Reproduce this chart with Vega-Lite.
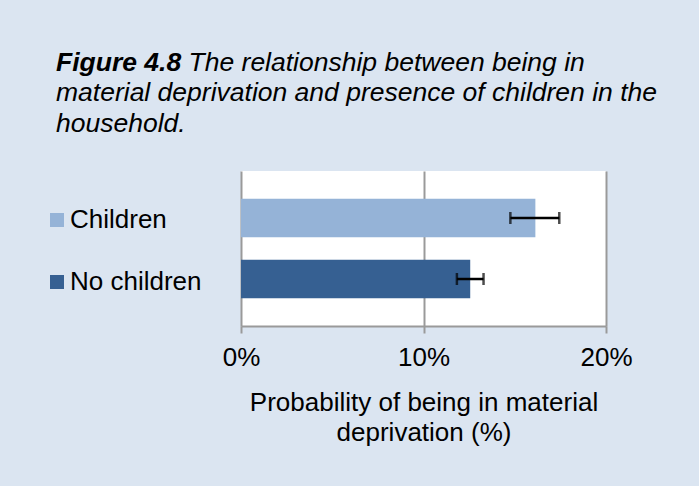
{
  "$schema": "https://vega.github.io/schema/vega-lite/v6.json",
  "autosize": {"type": "none"},
  "width": 365,
  "height": 155,
  "padding": {"left": 241, "top": 171, "right": 93, "bottom": 160},
  "background": "#dbe5f1",
  "title": {
    "text": "Figure 4.8",
    "subtitle": ["\u200b\u00a0\u00a0\u00a0\u00a0\u00a0\u00a0\u00a0\u00a0\u00a0\u00a0\u00a0\u00a0\u00a0\u00a0\u00a0\u00a0\u00a0\u00a0The relationship between being in", "material deprivation and presence of children in the", "household."],
    "anchor": "start",
    "frame": "group",
    "dx": -185,
    "offset": 34,
    "font": "Liberation Sans",
    "fontSize": 26.5,
    "fontStyle": "italic",
    "fontWeight": "bold",
    "color": "#000000",
    "subtitleFont": "Liberation Sans",
    "subtitleFontSize": 26.5,
    "subtitleFontStyle": "italic",
    "subtitleFontWeight": "normal",
    "subtitleColor": "#000000",
    "subtitleLineHeight": 30.5,
    "subtitlePadding": -26.5
  },
  "data": {
    "values": [
      {"group": "Children", "value": 0.1613, "lo": 0.1476, "hi": 0.1744},
      {"group": "No children", "value": 0.1256, "lo": 0.1183, "hi": 0.1329}
    ]
  },
  "encoding": {
    "y": {
      "field": "group",
      "type": "nominal",
      "sort": ["Children", "No children"],
      "scale": {"paddingInner": 0.366, "paddingOuter": 0.453},
      "axis": null
    }
  },
  "layer": [
    {
      "mark": {"type": "bar"},
      "encoding": {
        "x": {
          "field": "value",
          "type": "quantitative",
          "title": ["Probability of being in material", "deprivation (%)"],
          "scale": {"domain": [0, 0.2], "nice": false},
          "axis": {
            "values": [0, 0.1, 0.2],
            "format": ".0%",
            "titleFont": "Liberation Sans",
            "titleFontSize": 26,
            "titleFontWeight": "normal",
            "titleColor": "#000000",
            "titleLineHeight": 30,
            "titlePadding": 19,
            "labelFont": "Liberation Sans",
            "labelFontSize": 26,
            "labelColor": "#000000",
            "labelPadding": 11,
            "labelFlush": false,
            "domainColor": "#9a9a9a",
            "domainWidth": 2,
            "tickColor": "#9a9a9a",
            "tickWidth": 2,
            "tickSize": 7,
            "grid": true,
            "gridColor": "#9a9a9a",
            "gridWidth": 2
          }
        },
        "color": {
          "field": "group",
          "type": "nominal",
          "scale": {"domain": ["Children", "No children"], "range": ["#95b3d7", "#366092"]},
          "legend": {
            "title": null,
            "orient": "none",
            "legendX": -197,
            "legendY": 36,
            "padding": 0,
            "symbolType": "square",
            "symbolSize": 196,
            "symbolStrokeWidth": 0,
            "labelFont": "Liberation Sans",
            "labelFontSize": 26,
            "labelColor": "#000000",
            "labelOffset": 0,
            "rowPadding": 36
          }
        }
      }
    },
    {
      "mark": {
        "type": "errorbar",
        "ticks": {"size": 12, "thickness": 2.5, "color": "#000000"},
        "rule": {"strokeWidth": 2.5, "color": "#000000"}
      },
      "encoding": {
        "x": {"field": "lo", "type": "quantitative", "title": ["Probability of being in material", "deprivation (%)"]},
        "x2": {"field": "hi"}
      }
    }
  ],
  "config": {
    "view": {"stroke": null, "fill": "#ffffff"}
  }
}
